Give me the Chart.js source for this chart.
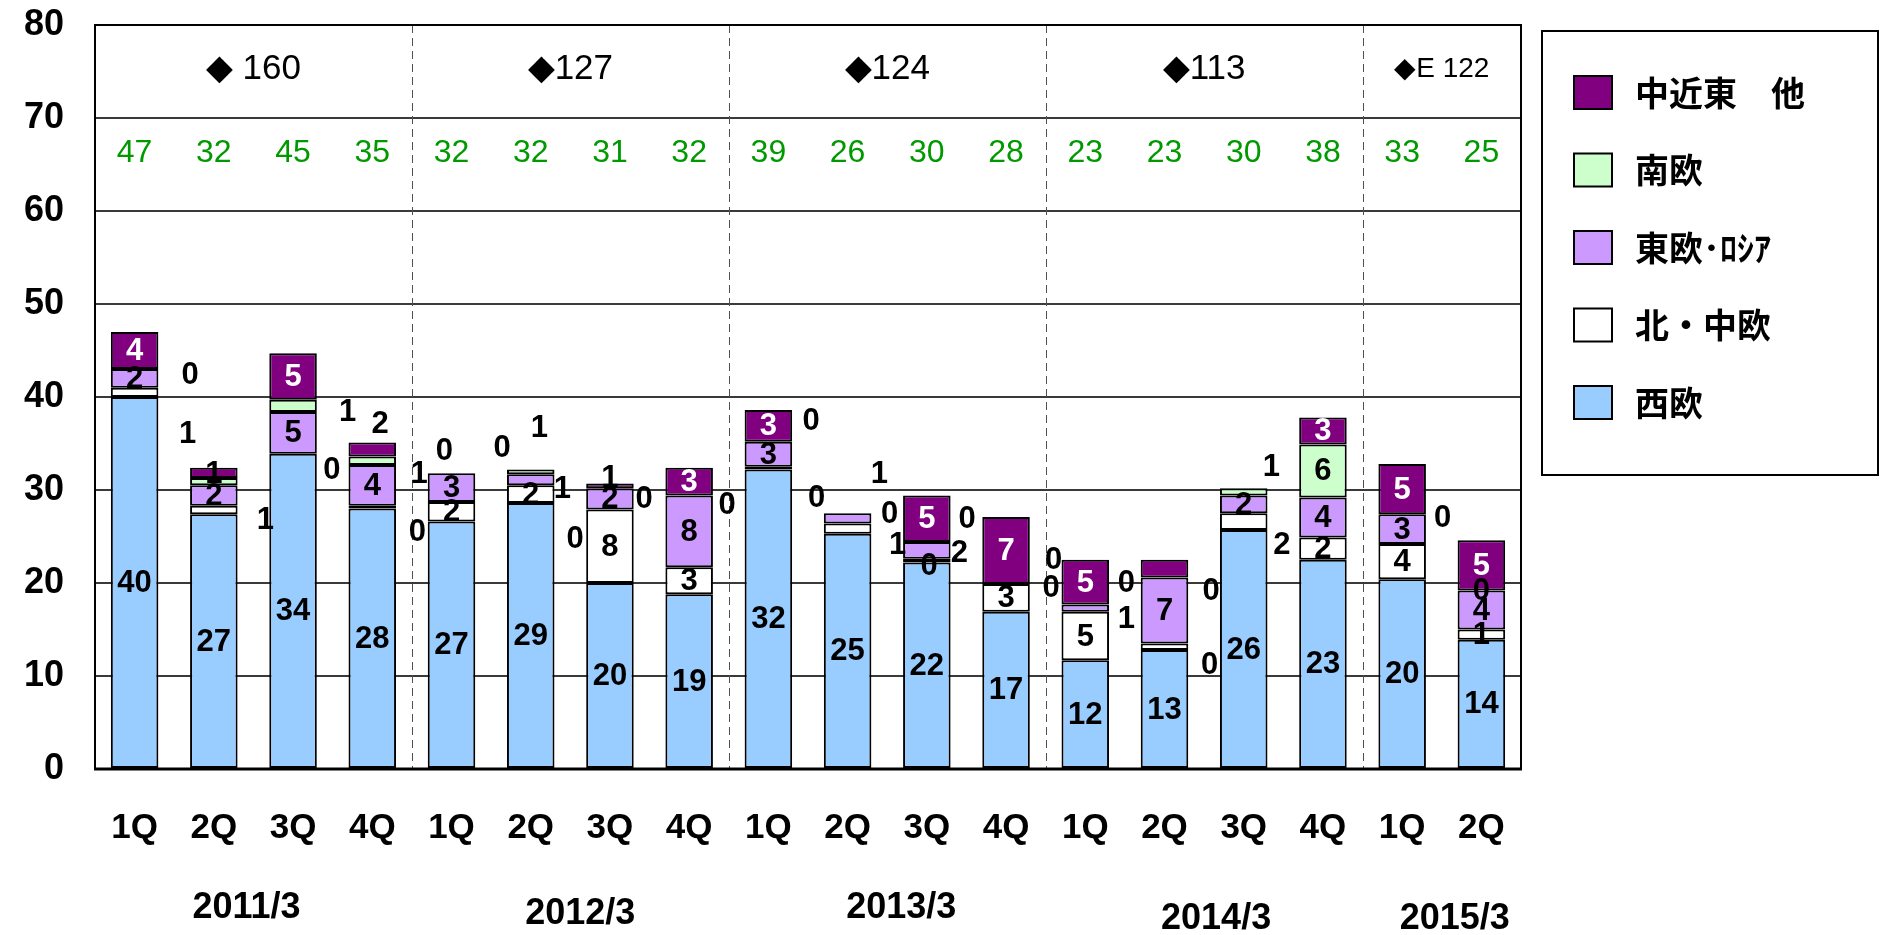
<!DOCTYPE html>
<html>
<head>
<meta charset="utf-8">
<script src="https://cdn.jsdelivr.net/npm/chart.js@4.4.1/dist/chart.umd.min.js"></script>
<style>
html,body{margin:0;padding:0;background:#fff;}
#wrap{width:1880px;height:935px;position:relative;background:#fff;}
</style>
</head>
<body>
<div id="wrap"><canvas id="c" width="1880" height="935"></canvas></div>
<script>
// ---------- data ----------
const quarters = ['1Q','2Q','3Q','4Q','1Q','2Q','3Q','4Q','1Q','2Q','3Q','4Q','1Q','2Q','3Q','4Q','1Q','2Q'];
const fiscalYears = ['2011/3','2012/3','2013/3','2014/3','2015/3'];
const fiscalQuarterCounts = [4,4,4,4,2];
const annualTotals = ['◆ 160','◆127','◆124','◆113','◆E 122'];
const quarterTotals = [47,32,45,35,32,32,31,32,39,26,30,28,23,23,30,38,33,25];
const seriesNames = ['西欧','北・中欧','東欧･ﾛｼｱ','南欧','中近東　他'];

const westEurope    = [40,27.4,33.9,28.0,26.6,28.6,20.0,18.8,32.2,25.3,22.2,16.9,11.7,12.8,25.7,22.5,20.4,13.9];
const northCentral  = [1.0,0.9,0,0.3,2.1,1.9,7.9,2.9,0.3,1.1,0.4,3.0,5.2,0.7,1.8,2.4,3.8,1.1];
const eastRussia    = [2.0,2.2,4.5,4.4,3.1,1.2,2.3,7.7,2.7,1.1,1.8,0,0.8,7.1,1.9,4.3,3.2,4.2];
const southEurope   = [0,0.8,1.3,0.9,0,0.5,0,0,0,0,0,0,0,0,0.8,5.7,0,0];
const middleEast    = [4.0,1.1,5.0,1.5,0,0,0.5,3.0,3.4,0,5.0,7.2,4.8,1.9,0,2.9,5.4,5.4];

// ---------- styling / label placement (not data) ----------
const seriesColors = ['#99CCFF','#FFFFFF','#CC99FF','#CCFFCC','#800080'];
const FONT = "'Liberation Sans', Arial, sans-serif";
const CJK = "'Noto Sans CJK JP', 'Noto Sans CJK SC', sans-serif";
// fiscal-year caption nudges in px [dx, dy]
const yearCaptionNudge = [[-7,0],[10,6],[14,0],[12,11],[13,11]];
// key "bar-series" -> [x offset in category widths, y position in axis units]
const outsideLabels = {
 '0-1':[0.67,36.1], '0-3':[0.70,42.4],
 '1-3':[0,31.8], '1-1':[0.65,26.8],
 '2-3':[0.69,38.4], '2-1':[0.49,32.2],
 '3-4':[0.10,37.2], '3-3':[0.59,31.8], '3-1':[0.57,25.5],
 '4-3':[-0.09,34.3], '4-4':[0.64,34.6],
 '5-2':[0.40,30.2], '5-3':[0.11,36.7], '5-4':[0.56,24.8],
 '6-4':[0,31.4], '6-3':[0.43,29.1],
 '7-3':[0.48,28.4],
 '8-3':[0.54,37.5],
 '9-1':[0.63,24.1], '9-2':[0.40,31.8], '9-3':[-0.39,29.2], '9-4':[0.53,27.5],
 '10-1':[0.03,21.9], '10-2':[0.41,23.3], '10-3':[0.51,26.9],
 '11-2':[0.57,19.5], '11-3':[0.60,22.5],
 '12-2':[0.52,16.2], '12-3':[0.52,20.1],
 '13-3':[0.59,19.2],
 '14-1':[0.48,24.1], '14-3':[0.35,32.5], '14-4':[-0.43,11.2],
 '16-3':[0.51,27.1]
};
const hiddenLabels = new Set(['1-4','8-1','13-1','13-4']);

const seriesData = [westEurope, northCentral, eastRussia, southEurope, middleEast];

const decor = {
  id: 'decor',
  beforeDatasetsDraw(chart) {
    const {ctx, chartArea: a, scales: {x}} = chart;
    ctx.save();
    ctx.strokeStyle = '#505050';
    ctx.lineWidth = 1;
    ctx.setLineDash([8, 5]);
    let idx = 0;
    for (let g = 0; g < fiscalQuarterCounts.length - 1; g++) {
      idx += fiscalQuarterCounts[g];
      const px = Math.round((x.getPixelForValue(idx - 1) + x.getPixelForValue(idx)) / 2) + 0.5;
      ctx.beginPath(); ctx.moveTo(px, a.top); ctx.lineTo(px, a.bottom); ctx.stroke();
    }
    ctx.restore();
  },
  afterDatasetsDraw(chart) {
    const {ctx, chartArea: a, scales: {x, y}} = chart;
    const cw = x.getPixelForValue(1) - x.getPixelForValue(0);
    ctx.save();
    ctx.textAlign = 'center';
    ctx.textBaseline = 'middle';
    ctx.font = `bold 31px ${FONT}`;
    chart.data.datasets.forEach((ds, si) => {
      const meta = chart.getDatasetMeta(si);
      meta.data.forEach((el, bi) => {
        const key = bi + '-' + si;
        if (hiddenLabels.has(key)) return;
        const txt = String(Math.round(ds.data[bi]));
        let px, py, color;
        if (outsideLabels[key]) {
          const o = outsideLabels[key];
          px = el.x + o[0] * cw;
          py = y.getPixelForValue(o[1]);
          color = '#000';
        } else {
          px = el.x;
          py = (el.y + el.base) / 2;
          color = si === 4 ? '#fff' : '#000';
        }
        ctx.fillStyle = color;
        ctx.fillText(txt, px, py + 1);
      });
    });
    // quarter totals (green)
    ctx.fillStyle = '#009900';
    ctx.font = `32px ${FONT}`;
    quarterTotals.forEach((t, i) => {
      ctx.fillText(String(t), x.getPixelForValue(i), 153);
    });
    // annual totals
    ctx.fillStyle = '#000';
    let s = 0;
    annualTotals.forEach((t, g) => {
      const n = fiscalQuarterCounts[g];
      const cx = (x.getPixelForValue(s) + x.getPixelForValue(s + n - 1)) / 2;
      ctx.font = (g === annualTotals.length - 1 ? '28px ' : '35px ') + FONT;
      ctx.fillText(t, cx, 69);
      s += n;
    });
    // frame
    ctx.strokeStyle = '#000';
    ctx.setLineDash([]);
    ctx.lineWidth = 2;
    ctx.beginPath();
    ctx.moveTo(a.left, a.bottom); ctx.lineTo(a.left, a.top); ctx.lineTo(a.right, a.top); ctx.lineTo(a.right, a.bottom);
    ctx.stroke();
    ctx.lineWidth = 3;
    ctx.beginPath(); ctx.moveTo(a.left - 1, a.bottom); ctx.lineTo(a.right + 1, a.bottom); ctx.stroke();
    ctx.restore();
  },
  afterDraw(chart) {
    const {ctx, scales: {x}} = chart;
    ctx.save();
    ctx.fillStyle = '#000';
    ctx.textAlign = 'center';
    ctx.textBaseline = 'middle';
    ctx.font = `bold 36px ${FONT}`;
    let s = 0;
    fiscalYears.forEach((t, g) => {
      const n = fiscalQuarterCounts[g];
      const nd = yearCaptionNudge[g];
      const cx = (x.getPixelForValue(s) + x.getPixelForValue(s + n - 1)) / 2 + nd[0];
      ctx.fillText(t, cx, 908 + nd[1]);
      s += n;
    });
    // legend
    const lx = 1542, ly = 31, lw = 336, lh = 444;
    ctx.strokeStyle = '#000';
    ctx.lineWidth = 2;
    ctx.strokeRect(lx, ly, lw, lh);
    ctx.textAlign = 'left';
    ctx.font = `bold 34px ${CJK}`;
    const order = [4, 3, 2, 1, 0];
    order.forEach((si, k) => {
      const top = 76 + k * 77.5;
      ctx.fillStyle = seriesColors[si];
      ctx.fillRect(1574, top, 38, 33);
      ctx.strokeRect(1574, top, 38, 33);
      ctx.fillStyle = '#000';
      ctx.fillText(chart.data.datasets[si].label, 1635, top + 17);
    });
    ctx.restore();
  }
};

new Chart(document.getElementById('c'), {
  type: 'bar',
  data: {
    labels: quarters,
    datasets: seriesData.map((d, i) => ({
      label: seriesNames[i],
      data: d,
      backgroundColor: seriesColors[i],
      borderColor: '#000',
      borderWidth: 2,
      borderSkipped: false,
      categoryPercentage: 0.6,
      barPercentage: 1.0
    }))
  },
  options: {
    responsive: false,
    animation: false,
    devicePixelRatio: 1,
    layout: { padding: { left: 0, top: 25, right: 359, bottom: 0 } },
    plugins: { legend: { display: false }, tooltip: { enabled: false } },
    scales: {
      x: {
        stacked: true,
        grid: { display: false, drawTicks: false },
        border: { display: false },
        ticks: { color: '#000', font: { family: FONT, size: 35, weight: 'bold' }, padding: 38, maxRotation: 0, autoSkip: false },
        afterFit: (sc) => { sc.height = 166; sc.paddingLeft = 0; sc.paddingRight = 0; }
      },
      y: {
        stacked: true,
        min: 0, max: 80,
        grid: { color: '#3a3a3a', lineWidth: 2, drawTicks: false },
        border: { display: false },
        ticks: { stepSize: 10, color: '#000', font: { family: FONT, size: 36, weight: 'bold' }, padding: 31 },
        afterFit: (sc) => { sc.width = 95; sc.paddingTop = 0; sc.paddingBottom = 0; }
      }
    }
  },
  plugins: [decor]
});
</script>
</body>
</html>
